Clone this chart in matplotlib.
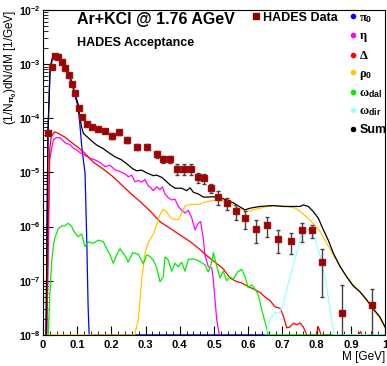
import numpy as np
import matplotlib
matplotlib.use('Agg')
import matplotlib.pyplot as plt
from matplotlib.ticker import MultipleLocator, LogLocator, FuncFormatter, NullFormatter
from matplotlib.lines import Line2D

plt.rcParams['font.family'] = ['Liberation Sans', 'DejaVu Sans']
plt.rcParams['font.weight'] = 'bold'
plt.rcParams['mathtext.fontset'] = 'custom'
plt.rcParams['mathtext.rm'] = 'Liberation Serif'
plt.rcParams['mathtext.it'] = 'Liberation Serif:italic'
plt.rcParams['mathtext.bf'] = 'Liberation Sans:bold'

# ── HADES data points (M in GeV, 1/N dN/dM in 1/GeV, relative error) ──────────
m_data = [0.015, 0.025, 0.035, 0.045, 0.055, 0.065, 0.075, 0.085, 0.095, 0.105,
          0.115, 0.128, 0.144, 0.160, 0.180, 0.201, 0.222, 0.246, 0.276, 0.305,
          0.332, 0.352, 0.371, 0.392, 0.412, 0.432, 0.452, 0.471, 0.492, 0.513,
          0.539, 0.563, 0.591, 0.624, 0.655, 0.687, 0.724, 0.758, 0.785, 0.816,
          0.874, 0.962]
y_data = [5.3e-5, 9.0e-4, 1.42e-3, 1.34e-3, 1.08e-3, 8.4e-4, 6.3e-4, 4.25e-4, 2.9e-4, 1.53e-4,
          1.04e-4, 7.8e-5, 6.8e-5, 6.4e-5, 5.9e-5, 4.7e-5, 5.5e-5, 4.0e-5, 3.0e-5, 2.96e-5,
          2.17e-5, 1.75e-5, 1.75e-5, 1.15e-5, 1.15e-5, 1.15e-5, 8.1e-6, 7.75e-6, 5.2e-6, 3.5e-6,
          2.74e-6, 1.92e-6, 1.43e-6, 9.0e-7, 1.06e-6, 5.85e-7, 5.4e-7, 8.5e-7, 8.5e-7, 2.18e-7,
          2.52e-8, 3.54e-8]
rel_err = [0.03, 0.03, 0.03, 0.03, 0.03, 0.03, 0.03, 0.03, 0.03, 0.03,
           0.03, 0.08, 0.08, 0.08, 0.08, 0.12, 0.12, 0.12, 0.12, 0.12,
           0.16, 0.16, 0.16, 0.22, 0.22, 0.22, 0.20, 0.20, 0.19, 0.29,
           0.25, 0.30, 0.38, 0.45, 0.39, 0.45, 0.43, 0.385, 0.28, 0.775,
           2.33, 1.02]

# ── Cocktail components ──────────────────────────────────────────────────────
pi0_m = [0.009, 0.0146, 0.0205, 0.0234, 0.029, 0.0336, 0.038, 0.044, 0.053, 0.061,
         0.070, 0.079, 0.088, 0.096, 0.103, 0.108, 0.113, 0.118, 0.123, 0.128,
         0.132, 0.135, 0.136, 0.66]
pi0_v = [1e-8, 5.4e-5, 6.9e-4, 9.5e-4, 1.35e-3, 1.41e-3, 1.35e-3, 1.23e-3, 1.05e-3, 8.9e-4,
         7.2e-4, 5.4e-4, 3.6e-4, 2.3e-4, 1.62e-4, 7.6e-5, 3.2e-5, 1.7e-5, 9.8e-6, 5.6e-7,
         3.3e-8, 1e-8, 0, 0]

eta_m = [0.0108, 0.0146, 0.0196, 0.0254, 0.0307, 0.0395, 0.0497, 0.0594, 0.0681, 0.0781,
         0.0886, 0.0994, 0.1082, 0.1178, 0.1278, 0.1374, 0.152, 0.1667, 0.1813, 0.1959,
         0.2105, 0.2251, 0.2398, 0.2494, 0.2594, 0.269, 0.2787, 0.2886, 0.2982, 0.308,
         0.3129, 0.3225, 0.3325, 0.342, 0.3494, 0.3567, 0.3664, 0.3763, 0.386, 0.3956,
         0.4056, 0.4152, 0.4249, 0.4348, 0.4444, 0.4541, 0.4611, 0.4687, 0.4737, 0.4833,
         0.4933, 0.498, 0.5029, 0.508, 0.5155]
eta_v = [1e-8, 1.4e-7, 1.7e-5, 2.8e-5, 4.0e-5, 4.4e-5, 4.35e-5, 3.8e-5, 3.4e-5, 3.3e-5,
         2.8e-5, 2.6e-5, 2.3e-5, 2.15e-5, 2.0e-5, 1.82e-5, 1.7e-5, 1.53e-5, 1.28e-5, 1.35e-5,
         1.12e-5, 1.04e-5, 9.4e-6, 8.3e-6, 8.9e-6, 6.7e-6, 7.1e-6, 6.6e-6, 7.4e-6, 5.6e-6,
         5.4e-6, 4.6e-6, 5.4e-6, 4.8e-6, 5.4e-6, 4.0e-6, 3.4e-6, 3.1e-6, 3.2e-6, 2.35e-6,
         2.0e-6, 1.78e-6, 2.0e-6, 1.45e-6, 8.7e-7, 1.15e-6, 1.23e-6, 5.9e-7, 2.9e-7, 1.82e-7,
         1.73e-7, 1.04e-7, 4.4e-8, 1.9e-8, 1e-8]

delta_m = [0.011, 0.0146, 0.0196, 0.0243, 0.0342, 0.0439, 0.0635, 0.0827, 0.1023, 0.118,
           0.147, 0.1763, 0.201, 0.2251, 0.2544, 0.2836, 0.3129, 0.342, 0.3713, 0.4006,
           0.4298, 0.454, 0.4787, 0.503, 0.527, 0.5468, 0.5664, 0.581, 0.600, 0.620,
           0.6345, 0.649, 0.664, 0.678, 0.693, 0.7026, 0.7126, 0.7222, 0.732, 0.742,
           0.7515, 0.761, 0.771, 0.798, 0.805, 0.813, 0.9225, 0.928, 0.933, 1.0]
delta_v = [1e-8, 5.6e-7, 2.6e-5, 4.6e-5, 5.6e-5, 5.3e-5, 4.5e-5, 3.6e-5, 2.9e-5, 2.4e-5,
           1.55e-5, 1.15e-5, 8.7e-6, 6.3e-6, 4.2e-6, 2.9e-6, 1.95e-6, 1.23e-6, 9.3e-7, 7.0e-7,
           5.3e-7, 4.0e-7, 2.9e-7, 2.2e-7, 1.66e-7, 1.12e-7, 9.6e-8, 9.1e-8, 7.8e-8, 6.8e-8,
           6.1e-8, 5.0e-8, 4.3e-8, 3.3e-8, 3.1e-8, 2.24e-8, 1.35e-8, 1.4e-8, 1.65e-8, 1.53e-8,
           1.66e-8, 1.4e-8, 0, 0, 1.4e-8, 0, 0, 1.15e-8, 0, 0]

rho_m = [0.0, 0.268, 0.2787, 0.2886, 0.2982, 0.308, 0.3225, 0.3325, 0.342, 0.352,
         0.3617, 0.371, 0.381, 0.3956, 0.4056, 0.415, 0.430, 0.459, 0.4787, 0.508,
         0.527, 0.542, 0.5564, 0.571, 0.5857, 0.5956, 0.615, 0.654, 0.683, 0.7126,
         0.737, 0.7515, 0.771, 0.790, 0.810, 0.8295, 0.849, 0.868, 0.888, 0.907,
         0.927, 0.9465, 0.966, 0.985, 1.0]
rho_v = [0, 1e-8, 1.9e-8, 1.04e-7, 3.2e-7, 5.2e-7, 7.2e-7, 1.07e-6, 1.65e-6, 2.1e-6,
         1.87e-6, 1.5e-6, 1.37e-6, 1.33e-6, 1.78e-6, 2.4e-6, 2.55e-6, 2.6e-6, 2.9e-6, 3.05e-6,
         2.95e-6, 2.9e-6, 2.5e-6, 2.12e-6, 2.12e-6, 1.9e-6, 2.03e-6, 2.35e-6, 2.44e-6, 2.35e-6,
         2.2e-6, 1.9e-6, 1.5e-6, 1.15e-6, 8.1e-7, 4.9e-7, 3.0e-7, 1.82e-7, 1.2e-7, 8.4e-8,
         6.3e-8, 4.4e-8, 2.9e-8, 2.0e-8, 1.35e-8]

omdal_m = [0.0155, 0.0205, 0.0254, 0.0307, 0.0351, 0.0447, 0.0547, 0.0643, 0.074, 0.0839,
           0.0936, 0.103, 0.113, 0.1228, 0.1325, 0.147, 0.1617, 0.1763, 0.1863, 0.1959,
           0.2056, 0.2155, 0.2251, 0.2398, 0.2494, 0.2623, 0.2787, 0.2933, 0.3032, 0.3129,
           0.3225, 0.3325, 0.3421, 0.3518, 0.3567, 0.3664, 0.3763, 0.386, 0.3956, 0.4056,
           0.4152, 0.4249, 0.4444, 0.459, 0.4737, 0.4833, 0.4933, 0.498, 0.508, 0.5175,
           0.527, 0.537, 0.5468, 0.5564, 0.5687, 0.581, 0.5906, 0.600, 0.610, 0.620,
           0.6295, 0.6395, 0.649, 0.659, 0.66, 1.0]
omdal_v = [1e-8, 6.2e-8, 2.2e-7, 4.6e-7, 6.2e-7, 9.1e-7, 1.03e-6, 1.03e-6, 1.15e-6, 1.0e-6,
           7.6e-7, 6.5e-7, 7.3e-7, 4.3e-7, 5.2e-7, 4.9e-7, 5.6e-7, 5.3e-7, 3.9e-7, 3.0e-7,
           2.1e-7, 3.0e-7, 3.9e-7, 2.9e-7, 2.2e-7, 3.3e-7, 3.1e-7, 2.05e-7, 3.0e-7, 2.8e-7,
           2.4e-7, 1.74e-7, 9.6e-8, 1.18e-7, 2.75e-7, 2.4e-7, 1.5e-7, 2.1e-7, 1.8e-7, 2.2e-7,
           1.5e-7, 2.5e-7, 2.5e-7, 2.25e-7, 1.96e-7, 1.45e-7, 2.2e-7, 3.3e-7, 1.86e-7, 1.12e-7,
           1.5e-7, 1.0e-7, 1.18e-7, 1.07e-7, 1.45e-7, 1.62e-7, 1.18e-7, 7.4e-8, 8.4e-8, 7.0e-8,
           5.5e-8, 2.9e-8, 1.74e-8, 1e-8, 0, 0]

omdir_m = [0.652, 0.664, 0.678, 0.690, 0.702, 0.716, 0.731, 0.7456, 0.757, 0.772,
           0.7865, 0.798, 0.810, 0.8246, 0.836, 0.845, 0.851, 0.852, 1.0]
omdir_v = [1e-8, 1.9e-8, 2.6e-8, 2.5e-8, 3.6e-8, 8.4e-8, 1.86e-7, 4.0e-7, 7.9e-7, 9.1e-7,
           7.9e-7, 5.2e-7, 2.9e-7, 1.12e-7, 4.1e-8, 1.74e-8, 1e-8, 0, 0]

sum_m = [0.009, 0.0146, 0.0205, 0.0234, 0.029, 0.0336, 0.038, 0.044, 0.053, 0.061,
         0.070, 0.079, 0.088, 0.096, 0.103, 0.108, 0.113, 0.118, 0.128, 0.137,
         0.147, 0.157, 0.176, 0.196, 0.2105, 0.230, 0.245, 0.264, 0.274, 0.289,
         0.303, 0.3225, 0.3325, 0.347, 0.360, 0.371, 0.386, 0.4056, 0.420, 0.430,
         0.4395, 0.454, 0.4687, 0.4825, 0.498, 0.5175, 0.537, 0.5564, 0.576, 0.5906,
         0.605, 0.6345, 0.673, 0.7026, 0.732, 0.7515, 0.761, 0.7757, 0.790, 0.805,
         0.8196, 0.834, 0.849, 0.868, 0.888, 0.907, 0.927, 0.9465, 0.966, 0.985, 1.0]
sum_v = [1e-8, 5.5e-5, 7.2e-4, 1.0e-3, 1.42e-3, 1.48e-3, 1.42e-3, 1.3e-3, 1.1e-3, 9.4e-4,
         7.6e-4, 5.8e-4, 3.9e-4, 2.5e-4, 1.8e-4, 1.0e-4, 6.9e-5, 5.3e-5, 4.6e-5, 4.1e-5,
         3.6e-5, 3.2e-5, 2.75e-5, 2.23e-5, 1.94e-5, 1.7e-5, 1.44e-5, 1.15e-5, 1.07e-5, 1.1e-5,
         9.8e-6, 8.7e-6, 8.9e-6, 8.1e-6, 6.9e-6, 5.9e-6, 5.1e-6, 5.1e-6, 4.6e-6, 5.2e-6,
         4.3e-6, 4.0e-6, 3.5e-6, 3.5e-6, 3.55e-6, 3.4e-6, 3.1e-6, 2.75e-6, 2.3e-6, 2.03e-6,
         2.18e-6, 2.35e-6, 2.44e-6, 2.35e-6, 2.35e-6, 2.35e-6, 2.51e-6, 2.35e-6, 1.9e-6, 1.42e-6,
         8.7e-7, 5.6e-7, 3.2e-7, 1.86e-7, 1.17e-7, 8e-8, 6.2e-8, 4.4e-8, 3.0e-8, 2.15e-8, 1.4e-8]

labels = [r'$\mathrm{\pi}_{\mathbf{0}}$', r'$\mathrm{\eta}$', r'$\mathrm{\Delta}$',
          r'$\mathrm{\rho}_{\mathbf{0}}$', r'$\mathrm{\omega}_{\mathbf{dal}}$',
          r'$\mathrm{\omega}_{\mathbf{dir}}$', 'Sum']
colors = ['#0000ff', '#ff00ff', '#ff0000', '#ffc800', '#00ee00', '#99ffff', '#000000']
series = [(pi0_m, pi0_v), (eta_m, eta_v), (delta_m, delta_v), (rho_m, rho_v),
          (omdal_m, omdal_v), (omdir_m, omdir_v), (sum_m, sum_v)]

ymin, ymax = 1e-8, 1e-2

fig = plt.figure(figsize=(3.87, 3.66), dpi=100)
ax = fig.add_axes([0.111, 0.085, 0.884, 0.888])

# zero bins are drawn on the lower frame, as ROOT does
for (m, v), col in zip(series, colors):
    ax.plot(m, np.clip(v, ymin, None), color=col, lw=0.9)

yerr = np.array(y_data) * np.array(rel_err)
ax.errorbar(m_data, y_data, yerr=yerr, fmt='s', ms=5, color='#990000', mec='#a01010',
            ecolor='#444444', elinewidth=1.0, capsize=1.6, capthick=1.0, zorder=5)

ax.set_yscale('log')
ax.set_xlim(0, 1)
ax.set_ylim(ymin, ymax)
ax.xaxis.set_major_locator(MultipleLocator(0.1))
ax.xaxis.set_minor_locator(MultipleLocator(0.02))
ax.xaxis.set_major_formatter(FuncFormatter(lambda x, p: f'{x:g}'))
ax.yaxis.set_major_locator(LogLocator(base=10, numticks=10))
ax.yaxis.set_minor_locator(LogLocator(base=10, subs=np.arange(2, 10), numticks=20))
ax.yaxis.set_minor_formatter(NullFormatter())
ax.yaxis.set_major_formatter(FuncFormatter(lambda y, p: r'$\mathbf{10^{%d}}$' % round(np.log10(y))))
ax.tick_params(which='both', direction='in', top=False, right=False)
ax.tick_params(axis='x', which='major', length=6.5, pad=4, labelsize=8)
ax.tick_params(axis='x', which='minor', length=3)
ax.tick_params(axis='y', which='major', length=7, pad=1.5, labelsize=7.5)
ax.tick_params(axis='y', which='minor', length=3.5)

ax.set_ylabel(r'(1/N$_{\mathbf{\pi_0}}$)dN/dM [1/GeV]', loc='top', fontsize=8.5)
ax.yaxis.set_label_coords(-0.07, 1.0)
ax.set_xlabel('M [GeV]', loc='right', fontsize=8.5)
ax.xaxis.set_label_coords(1.0, -0.05)

ax.text(0.099, 0.969, 'Ar+KCl @ 1.76 AGeV', transform=ax.transAxes,
        fontsize=11.5, va='center', ha='left')
ax.text(0.099, 0.898, 'HADES Acceptance', transform=ax.transAxes,
        fontsize=9, va='center', ha='left')

h_data = Line2D([], [], marker='s', ls='none', color='#990000', ms=5)
leg1 = ax.legend([h_data], ['HADES Data'], loc='upper left', bbox_to_anchor=(0.607, 0.994),
                 frameon=False, fontsize=9, handlelength=0.8, handletextpad=0.2,
                 borderpad=0, borderaxespad=0)
ax.add_artist(leg1)

handles = [Line2D([], [], marker='o', ls='none', color=c, ms=3) for c in colors]
ax.legend(handles, labels, loc='upper left', bbox_to_anchor=(0.896, 0.994),
          frameon=False, fontsize=9, handlelength=0.5, handletextpad=0.3,
          labelspacing=0.45, borderpad=0, borderaxespad=0)

fig.savefig('out.png', dpi=100)
